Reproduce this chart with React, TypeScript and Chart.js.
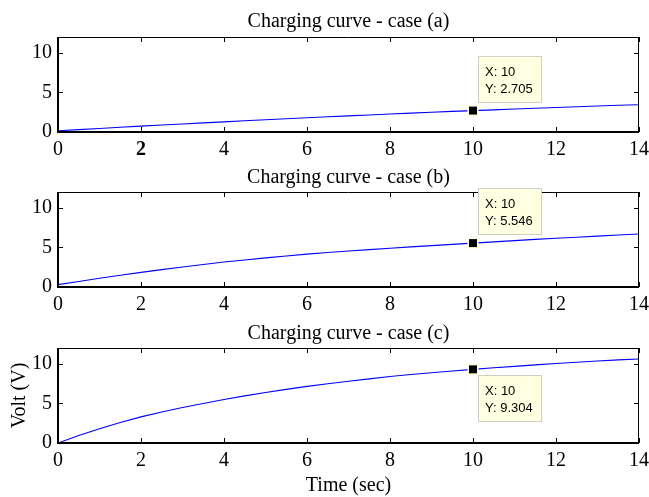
import React, { useEffect, useRef } from 'react';
import { Chart, registerables } from 'chart.js';

Chart.register(...registerables);

const SERIF = '"Liberation Serif", "Times New Roman", Times, serif';
const SANS = '"Liberation Sans", Arial, Helvetica, sans-serif';

// ---- data ----
const timeSec = [0, 0.5, 1, 1.5, 2, 2.5, 3, 3.5, 4, 4.5, 5, 5.5, 6, 6.5, 7, 7.5, 8, 8.5, 9, 9.5, 10, 10.5, 11, 11.5, 12, 12.5, 13, 13.5, 14];
const voltCaseA = [0.15, 0.3, 0.45, 0.6, 0.74, 0.88, 1.02, 1.15, 1.28, 1.42, 1.55, 1.68, 1.8, 1.92, 2.04, 2.15, 2.27, 2.38, 2.49, 2.6, 2.705, 2.8, 2.9, 3.0, 3.1, 3.19, 3.28, 3.37, 3.45];
const voltCaseB = [0.3, 0.7, 1.1, 1.48, 1.85, 2.19, 2.52, 2.84, 3.15, 3.42, 3.68, 3.92, 4.15, 4.35, 4.54, 4.72, 4.9, 5.07, 5.23, 5.39, 5.546, 5.7, 5.86, 6.01, 6.15, 6.29, 6.43, 6.57, 6.7];
const voltCaseC = [0, 0.95, 1.8, 2.6, 3.3, 3.92, 4.48, 5.0, 5.5, 5.95, 6.37, 6.77, 7.15, 7.48, 7.8, 8.1, 8.4, 8.65, 8.88, 9.1, 9.304, 9.5, 9.68, 9.87, 10.05, 10.2, 10.35, 10.5, 10.62];
const xTickValues = [0, 2, 4, 6, 8, 10, 12, 14];
const yTickValues = [0, 5, 10];
const panelTitles = ['Charging curve - case (a)', 'Charging curve - case (b)', 'Charging curve - case (c)'];
const tipXValues = [10, 10, 10];
const tipYValues = [2.705, 5.546, 9.304];
const xAxisLabel = 'Time (sec)';
const yAxisLabel = 'Volt (V)';

const seriesList = [voltCaseA, voltCaseB, voltCaseC];

// ---- layout (positions / styles) ----
const panels = [
  { top: 0, height: 162, padTop: 37, xAxisH: 30, titleY: 22, tipBelow: false, boldTwo: true, xLabel: false, yLabel: false },
  { top: 162, height: 156, padTop: 30, xAxisH: 31, titleY: 16, tipBelow: false, boldTwo: false, xLabel: false, yLabel: false },
  { top: 318, height: 179, padTop: 30, xAxisH: 54, titleY: 16, tipBelow: true, boldTwo: false, xLabel: true, yLabel: true },
];

const W = 649;

function makePlugin(idx: number) {
  const p = panels[idx];
  return {
    id: 'matlabFrame' + idx,
    afterDraw(chart: any) {
      const ctx = chart.ctx;
      const a = chart.chartArea;
      const xs = chart.scales.x;
      const ys = chart.scales.y;
      ctx.save();
      // frame
      ctx.strokeStyle = '#000';
      ctx.lineWidth = 1;
      ctx.beginPath();
      ctx.moveTo(a.left, a.top + 0.5);
      ctx.lineTo(a.right, a.top + 0.5);
      ctx.moveTo(a.right - 0.5, a.top);
      ctx.lineTo(a.right - 0.5, a.bottom);
      ctx.stroke();
      ctx.lineWidth = 2;
      ctx.beginPath();
      ctx.moveTo(a.left, a.top);
      ctx.lineTo(a.left, a.bottom);
      ctx.lineTo(a.right, a.bottom);
      ctx.stroke();
      // inward ticks
      ctx.lineWidth = 1;
      ctx.beginPath();
      const tl = 5;
      xTickValues.forEach((v) => {
        const x = Math.round(xs.getPixelForValue(v)) + 0.5;
        ctx.moveTo(x, a.bottom);
        ctx.lineTo(x, a.bottom - tl);
        ctx.moveTo(x, a.top);
        ctx.lineTo(x, a.top + tl);
      });
      yTickValues.forEach((v) => {
        const y = Math.round(ys.getPixelForValue(v)) + 0.5;
        ctx.moveTo(a.left, y);
        ctx.lineTo(a.left + tl, y);
        ctx.moveTo(a.right, y);
        ctx.lineTo(a.right - tl, y);
      });
      ctx.stroke();
      // title
      ctx.fillStyle = '#000';
      ctx.font = '20px ' + SERIF;
      ctx.textAlign = 'center';
      ctx.textBaseline = 'middle';
      ctx.fillText(panelTitles[idx], (a.left + a.right) / 2, p.titleY);
      if (p.xLabel) {
        ctx.fillText(xAxisLabel, (a.left + a.right) / 2, chart.height - 11);
      }
      if (p.yLabel) {
        ctx.save();
        ctx.translate(20, (a.top + a.bottom) / 2);
        ctx.rotate(-Math.PI / 2);
        ctx.fillText(yAxisLabel, 0, 0);
        ctx.restore();
      }
      // data tip
      const px = xs.getPixelForValue(tipXValues[idx]);
      const py = ys.getPixelForValue(tipYValues[idx]);
      ctx.fillStyle = '#ffffe1';
      ctx.fillRect(px - 5.5, py - 5.5, 11, 11);
      ctx.fillStyle = '#000';
      ctx.fillRect(px - 4, py - 4, 8, 8);
      const bw = 64;
      const bh = 47;
      const bx = Math.round(px + 5);
      const by = Math.round(p.tipBelow ? py + 6 : py - 55);
      ctx.fillStyle = '#ffffe1';
      ctx.fillRect(bx, by, bw, bh);
      ctx.strokeStyle = '#cfcfc4';
      ctx.lineWidth = 1;
      ctx.strokeRect(bx + 0.5, by + 0.5, bw - 1, bh - 1);
      ctx.fillStyle = '#000';
      ctx.font = '13px ' + SANS;
      ctx.textAlign = 'left';
      ctx.textBaseline = 'middle';
      ctx.fillText('X: ' + tipXValues[idx], bx + 7, by + 16);
      ctx.fillText('Y: ' + tipYValues[idx].toFixed(3), bx + 7, by + 33);
      ctx.restore();
    },
  };
}

function Subplot({ idx }: { idx: number }) {
  const ref = useRef<HTMLCanvasElement | null>(null);
  const p = panels[idx];
  useEffect(() => {
    const canvas = ref.current;
    if (!canvas) return;
    const series = seriesList[idx];
    const chart = new Chart(canvas, {
      type: 'line',
      data: {
        datasets: [
          {
            data: timeSec.map((t, i) => ({ x: t, y: series[i] })),
            borderColor: '#0000ff',
            borderWidth: 1.1,
            pointRadius: 0,
            tension: 0,
            fill: false,
          },
        ],
      },
      options: {
        animation: false,
        responsive: false,
        events: [],
        layout: { padding: { top: p.padTop, right: 10, left: 0, bottom: 0 } },
        plugins: {
          legend: { display: false },
          tooltip: { enabled: false },
          title: { display: false },
        },
        scales: {
          x: {
            type: 'linear',
            min: 0,
            max: 14,
            afterBuildTicks: (s: any) => {
              s.ticks = xTickValues.map((v) => ({ value: v }));
            },
            afterFit: (s: any) => {
              s.height = p.xAxisH;
              s.paddingLeft = 0;
              s.paddingRight = 0;
            },
            grid: { display: false, drawTicks: false },
            border: { display: false },
            ticks: {
              padding: 6,
              color: '#000',
              maxRotation: 0,
              autoSkip: false,
              font: (c: any) => ({
                family: SERIF,
                size: 20,
                weight: p.boldTwo && c.tick && c.tick.value === 2 ? 'bold' : 'normal',
              }),
            },
          },
          y: {
            type: 'linear',
            min: 0,
            max: 12,
            afterBuildTicks: (s: any) => {
              s.ticks = yTickValues.map((v) => ({ value: v }));
            },
            afterFit: (s: any) => {
              s.width = 58;
              s.paddingTop = 0;
              s.paddingBottom = 0;
            },
            grid: { display: false, drawTicks: false },
            border: { display: false },
            ticks: {
              padding: 6,
              color: '#000',
              font: { family: SERIF, size: 20 },
            },
          },
        },
      } as any,
      plugins: [makePlugin(idx)],
    });
    return () => chart.destroy();
  }, [idx]);
  return (
    <canvas
      ref={ref}
      width={W}
      height={p.height}
      style={{ position: 'absolute', left: 0, top: p.top, width: W, height: p.height }}
    />
  );
}

export default function App() {
  return (
    <div style={{ position: 'fixed', left: 0, top: 0, width: W, height: 497, background: '#fff' }}>
      {panels.map((_, i) => (
        <Subplot key={i} idx={i} />
      ))}
    </div>
  );
}
